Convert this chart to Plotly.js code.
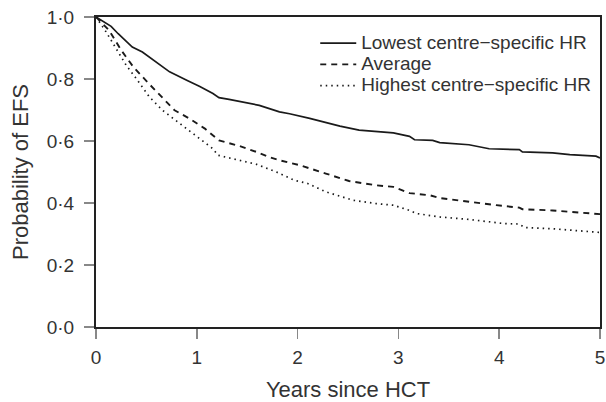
<!DOCTYPE html>
<html>
<head>
<meta charset="utf-8">
<script src="https://cdn.plot.ly/plotly-3.0.1.min.js"></script>
<style>html,body{margin:0;padding:0;background:#fff;}#chart{width:606px;height:402px;}</style>
</head>
<body>
<div id="chart"></div>
<script>
// Lowest centre-specific HR
const lowT = [0, 0.15, 0.22, 0.36, 0.46, 0.6, 0.73, 0.9, 1.03, 1.16, 1.22, 1.32, 1.46, 1.62, 1.82, 1.92, 2.12, 2.42, 2.61, 2.95, 3.11, 3.16, 3.34, 3.41, 3.7, 3.9, 4.2, 4.23, 4.53, 4.7, 4.96, 5];
const lowV = [1.0, 0.97, 0.946, 0.903, 0.887, 0.855, 0.823, 0.796, 0.776, 0.753, 0.74, 0.734, 0.726, 0.715, 0.694, 0.688, 0.673, 0.648, 0.635, 0.626, 0.615, 0.604, 0.602, 0.595, 0.588, 0.575, 0.572, 0.565, 0.562, 0.556, 0.551, 0.545];
// Average
const avgT = [0, 0.13, 0.25, 0.37, 0.51, 0.65, 0.78, 0.93, 1.08, 1.22, 1.42, 1.59, 1.72, 1.82, 2.02, 2.28, 2.51, 2.78, 2.95, 3.11, 3.31, 3.41, 3.7, 3.97, 4.2, 4.23, 4.53, 4.93, 5];
const avgV = [1.0, 0.957, 0.893, 0.839, 0.79, 0.742, 0.699, 0.672, 0.64, 0.602, 0.584, 0.565, 0.548, 0.538, 0.522, 0.495, 0.471, 0.457, 0.452, 0.432, 0.425, 0.416, 0.403, 0.393, 0.385, 0.38, 0.376, 0.366, 0.364];
// Highest centre-specific HR
const highT = [0, 0.1, 0.2, 0.3, 0.4, 0.53, 0.66, 0.83, 0.99, 1.16, 1.21, 1.42, 1.59, 1.79, 1.97, 2.1, 2.28, 2.55, 2.78, 2.95, 3.11, 3.18, 3.41, 3.7, 4.04, 4.2, 4.25, 4.53, 4.96, 5];
const highV = [1.0, 0.952, 0.898, 0.844, 0.801, 0.742, 0.699, 0.656, 0.618, 0.575, 0.554, 0.538, 0.525, 0.5, 0.473, 0.463, 0.436, 0.409, 0.398, 0.393, 0.376, 0.366, 0.355, 0.347, 0.334, 0.332, 0.321, 0.317, 0.306, 0.305];

const seriesNames = ['Lowest centre\u2212specific HR', 'Average', 'Highest centre\u2212specific HR'];
const xTicks = [0, 1, 2, 3, 4, 5];
const xTickText = ['0', '1', '2', '3', '4', '5'];
const yTicks = [0, 0.2, 0.4, 0.6, 0.8, 1.0];
const yTickText = ['0\u00b70', '0\u00b72', '0\u00b74', '0\u00b76', '0\u00b78', '1\u00b70'];

const FONT = 'Liberation Sans, Arial, Helvetica, sans-serif';
// legend text is drawn larger than the legend's row spacing font
const legendName = n => '<span style="font-size:19px">' + n + '</span>';
const traces = [
  {x: lowT, y: lowV, name: legendName(seriesNames[0]), mode: 'lines', line: {color: '#1a1a1a', width: 1.7, dash: 'solid'}},
  {x: avgT, y: avgV, name: legendName(seriesNames[1]), mode: 'lines', line: {color: '#1a1a1a', width: 1.9, dash: '6px,5px'}},
  {x: highT, y: highV, name: legendName(seriesNames[2]), mode: 'lines', line: {color: '#1a1a1a', width: 1.7, dash: '1.5px,4px'}}
];

const axisCommon = {
  showgrid: false, zeroline: false,
  showline: true, linecolor: '#222', linewidth: 2, mirror: true,
  ticks: 'outside', ticklen: 10, tickcolor: '#888', tickwidth: 1.5,
  tickfont: {family: FONT, size: 19, color: '#333'}
};

const layout = {
  width: 606, height: 402,
  margin: {l: 96, r: 6, t: 17, b: 75, pad: 0},
  paper_bgcolor: '#fff', plot_bgcolor: '#fff',
  font: {family: FONT, color: '#333'},
  showlegend: true,
  legend: {
    x: 0.435, y: 0.966, xanchor: 'left', yanchor: 'top',
    bgcolor: 'rgba(0,0,0,0)', borderwidth: 0,
    font: {family: FONT, size: 14, color: '#333'},
    tracegroupgap: 0, itemwidth: 36
  },
  xaxis: Object.assign({}, axisCommon, {
    range: [0, 5], tickvals: xTicks, ticktext: xTickText,
    ticklabelstandoff: 2,
    title: {text: 'Years since HCT', font: {family: FONT, size: 22, color: '#333'}, standoff: 17}
  }),
  yaxis: Object.assign({}, axisCommon, {
    range: [0, 1], tickvals: yTicks, ticktext: yTickText,
    ticklabelstandoff: 6,
    title: {text: 'Probability of EFS', font: {family: FONT, size: 22, color: '#333'}, standoff: 12}
  })
};

Plotly.newPlot('chart', traces, layout, {displayModeBar: false, staticPlot: true});
</script>
</body>
</html>
